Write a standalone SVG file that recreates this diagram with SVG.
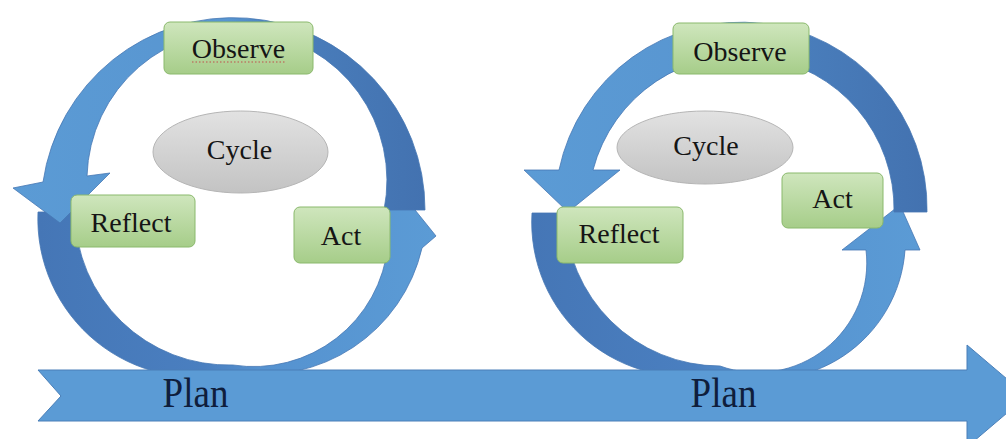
<svg xmlns="http://www.w3.org/2000/svg" width="1006" height="439" viewBox="0 0 1006 439">
  <defs>
    <linearGradient id="gradA" x1="0" y1="0" x2="1" y2="0">
      <stop offset="0" stop-color="#5b9bd5"/>
      <stop offset="0.52" stop-color="#5895d0"/>
      <stop offset="0.64" stop-color="#4a7fbd"/>
      <stop offset="1" stop-color="#4372b0"/>
    </linearGradient>
    <linearGradient id="gradB" x1="0" y1="0" x2="1" y2="0">
      <stop offset="0" stop-color="#4576b6"/>
      <stop offset="0.42" stop-color="#4a7fc0"/>
      <stop offset="0.56" stop-color="#5592d0"/>
      <stop offset="1" stop-color="#5b9bd5"/>
    </linearGradient>
    <linearGradient id="gradBox" x1="0" y1="0" x2="0" y2="1">
      <stop offset="0" stop-color="#cfe6bd"/>
      <stop offset="1" stop-color="#a6cd89"/>
    </linearGradient>
    <linearGradient id="gradEll" x1="0" y1="0" x2="0" y2="1">
      <stop offset="0" stop-color="#e2e2e2"/>
      <stop offset="1" stop-color="#c3c3c3"/>
    </linearGradient>
    <style>
      .arrow { stroke: #4677b4; stroke-width: 0.8; stroke-linejoin: miter; }
      .box { fill: url(#gradBox); stroke: #8ab96c; stroke-width: 1; }
      .ell { fill: url(#gradEll); stroke: #b5b5b5; stroke-width: 1; }
    </style>
  </defs>

  <rect x="0" y="0" width="1006" height="439" fill="#ffffff"/>

  <g id="connectors">
    <path class="arrow" fill="url(#gradB)" d="M 38,212 A 158 158 0 0 0 235,372 A 163 163 0 0 0 422,248 L 436,236 L 403,195 L 360,225 L 388,245 A 135 135 0 0 1 233,365 A 153.5 153.5 0 0 1 75,212 Z"/>
    <path class="arrow" fill="url(#gradA)" d="M 425,210 A 192 192 0 0 0 43,182 L 13,188 L 60,223 L 110,173 L 87,176 A 150 150 0 1 1 384,210 Z"/>
    <path class="arrow" fill="url(#gradB)" d="M 532,213 A 154 154 0 0 0 722,372 A 139 139 0 0 0 905,250 L 920,250 L 900,205 L 842,250 L 866,250 A 109.5 109.5 0 0 1 720,366 A 155 155 0 0 1 565,213 Z"/>
    <path class="arrow" fill="url(#gradA)" d="M 927,212 A 186 186 0 0 0 559,170 L 524,170 L 568,212 L 620,170 L 593,170 A 153 153 0 0 1 894,212 Z"/>
    <path fill="#5b9bd5" stroke="#4a7fb8" stroke-width="1" d="M 38,370 L 967,370 L 967,345 L 1027,396 L 967,447 L 967,421 L 38,421 L 61,396 Z"/>
  </g>

  <g font-family="'Liberation Serif', 'DejaVu Serif', serif" font-size="28" fill="#151515" text-anchor="middle">
    <g id="observe-1">
      <rect class="box" x="164" y="22" width="149" height="52" rx="6"/>
      <text x="238.5" y="58">Observe</text>
      <line x1="192" y1="62" x2="285" y2="62" stroke="#c0504d" stroke-width="1.2" stroke-dasharray="1.5 2"/>
    </g>
    <g id="cycle-1">
      <ellipse class="ell" cx="240.5" cy="152" rx="87.5" ry="41"/>
      <text x="239.5" y="159">Cycle</text>
    </g>
    <g id="reflect-1">
      <rect class="box" x="71" y="195" width="124" height="52" rx="6"/>
      <text x="131" y="232">Reflect</text>
    </g>
    <g id="act-1">
      <rect class="box" x="294" y="207" width="96" height="56" rx="6"/>
      <text x="341" y="245">Act</text>
    </g>

    <g id="observe-2">
      <rect class="box" x="673" y="23" width="136" height="51" rx="6"/>
      <text x="740" y="61">Observe</text>
    </g>
    <g id="cycle-2">
      <ellipse class="ell" cx="705" cy="147.5" rx="88" ry="36.5"/>
      <text x="706" y="155">Cycle</text>
    </g>
    <g id="reflect-2">
      <rect class="box" x="557" y="207" width="126" height="56" rx="6"/>
      <text x="619" y="243">Reflect</text>
    </g>
    <g id="act-2">
      <rect class="box" x="782" y="173" width="101" height="55" rx="6"/>
      <text x="832.5" y="208">Act</text>
    </g>

    <g id="plan-1">
      <text transform="translate(195.5,407) scale(1,1.12)" x="0" y="0" font-size="37" fill="#0f1e3c">Plan</text>
    </g>
    <g id="plan-2">
      <text transform="translate(723.5,407) scale(1,1.12)" x="0" y="0" font-size="37" fill="#0f1e3c">Plan</text>
    </g>
  </g>
</svg>
